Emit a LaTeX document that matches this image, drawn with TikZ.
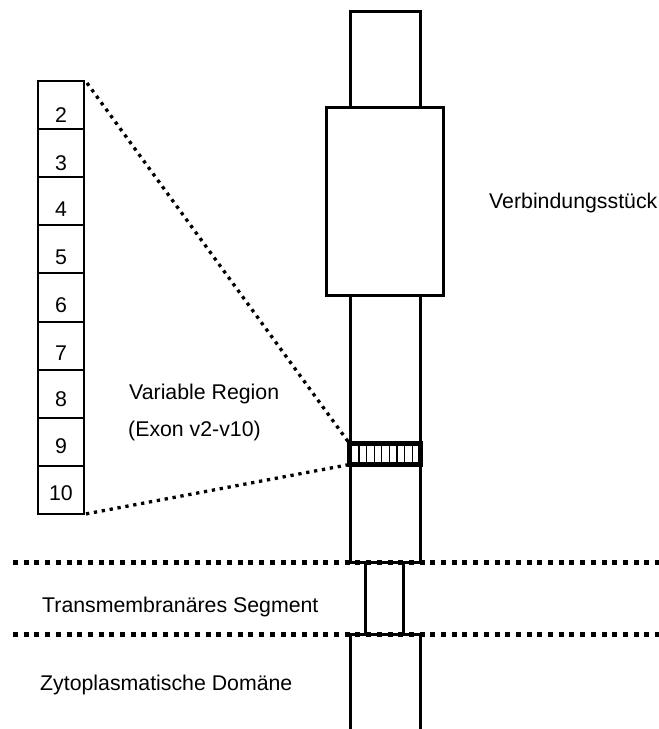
\documentclass[tikz,border=0pt]{standalone}
\usepackage{fontspec}
\setmainfont{Liberation Sans}
\begin{document}
\begin{tikzpicture}[x=1pt,y=-1pt,
  stem/.style={draw, line width=3pt},
  cell/.style={draw, line width=2pt, minimum width=46pt, minimum height=48.1pt, inner sep=0pt, outer sep=0pt},
  lbl/.style={font=\fontsize{21.3}{25}\selectfont, inner sep=0pt, anchor=base west},
  digit/.style={font=\fontsize{21.3}{25}\selectfont, inner sep=0pt, anchor=base},
  zoomline/.style={line width=3.3pt, dash pattern=on 3.3pt off 4.7pt},
  membrane/.style={line width=5pt, dash pattern=on 5pt off 5.7pt},
  band/.style={draw, fill=white, line width=5pt, minimum width=71pt, minimum height=21pt, inner sep=0pt, outer sep=0pt}]
\useasboundingbox (0,0) rectangle (659,729);

% membrane boundaries
\coordinate (m1a) at (13,562);
\coordinate (m1b) at (659,562);
\coordinate (m2a) at (13,634);
\coordinate (m2b) at (659,634);
\draw[membrane] (m1a) -- (m1b);
\draw[membrane] (m2a) -- (m2b);

% stem
\draw[stem] (350,11) rectangle (420,107.5);
\draw[stem] (326.5,107.5) rectangle (443.5,295.5);
\draw[stem] (350,295.5) rectangle (420,562);
\draw[stem] (365.5,562) rectangle (403.5,634);
\draw[stem] (350,729) -- (350,634) -- (420,634) -- (420,729);

% exon stack
\foreach \i [count=\k from 0] in {2,...,10}{
  \node[cell] (c\i) at (61,{81+48.1*(\k+0.5)}) {};
}
\foreach \i/\b in {2/122,3/170,4/216.5,5/264.5,6/312.5,7/360.5,8/406.5,9/453,10/500.5}{
  \node[digit] (d\i) at (61,\b) {\i};
}

% variable region band
\node[band] (band) at (385,454) {};
\foreach \x in {0,...,7}{
  \draw[line width=1.3pt] ({359+7.6*\x},446) -- ({359+7.6*\x},462);
}

% zoom lines
\draw[zoomline] ([xshift=3pt,yshift=-2pt]c2.north east) -- (band.north west);
\draw[zoomline] ([xshift=2pt]c10.south east) -- (band.south west);

% labels
\node[lbl] (verb) at (489,208) {Verbindungsstück};
\node[lbl] (var) at (129,399) {Variable Region};
\node[lbl] (exon) at (128,436) {(Exon v2-v10)};
\node[lbl] (tm) at (42,612) {Transmembranäres Segment};
\node[lbl] (zyto) at (40,690) {Zytoplasmatische Domäne};
\end{tikzpicture}
\end{document}
